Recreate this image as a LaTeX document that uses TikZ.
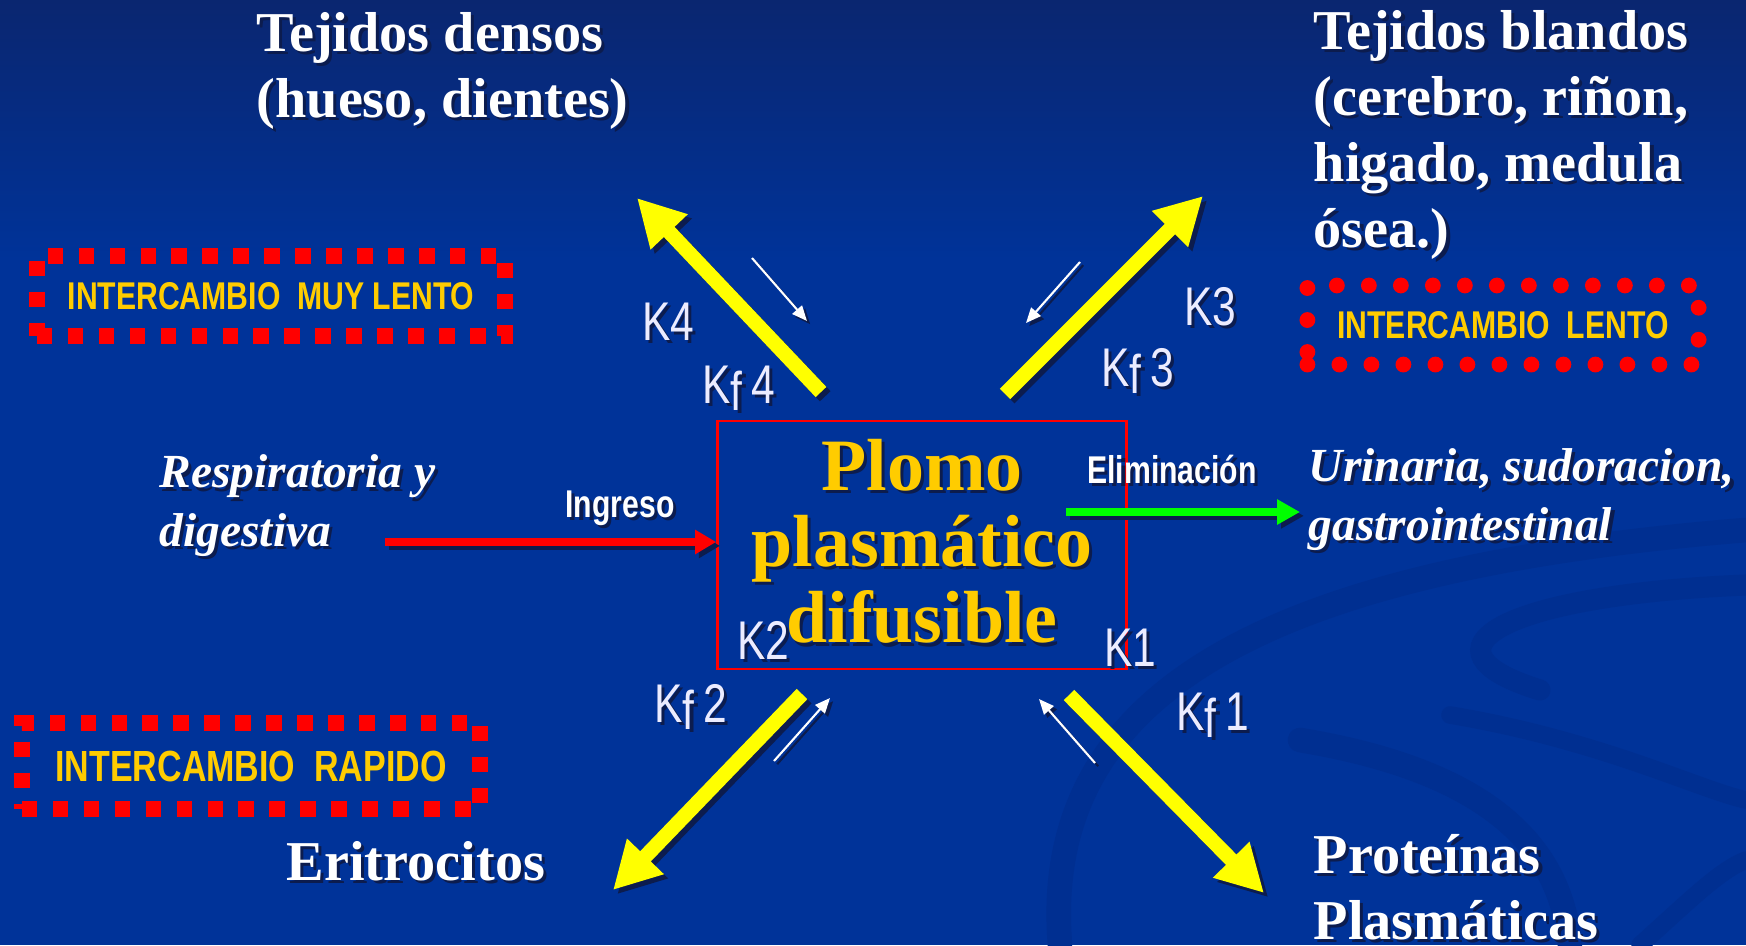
\documentclass[tikz,border=0pt]{standalone}
\usepackage{fontspec}
\setmainfont{Liberation Serif}
\newfontfamily\narrowsf[FakeStretch=0.78]{Liberation Sans}
\usetikzlibrary{arrows.meta}
\usetikzlibrary{positioning}

\definecolor{fondo}{RGB}{0,51,153}
\definecolor{fondotop}{RGB}{10,38,112}
\definecolor{banda}{RGB}{0,47,145}
\definecolor{oro}{RGB}{255,204,0}
\definecolor{rayo}{RGB}{255,255,0}
\definecolor{verde}{RGB}{0,255,0}
\definecolor{sombra}{RGB}{12,28,78}
\definecolor{blancok}{RGB}{236,236,255}

% text with a small drop shadow
\newcommand{\sombranode}[4]{%
  \node[#2,text=sombra,xshift=0.9pt,yshift=-0.9pt] at #3 {#4};
  \node[#2] (#1) at #3 {#4};
}
\newcommand{\kf}[1]{K\raisebox{-2pt}{f}\,#1}

\begin{document}
\begin{tikzpicture}[x=0.01cm,y=-0.01cm,
  titulo/.style={text=white,font=\bfseries\fontsize{16}{18.7}\selectfont,align=left,anchor=base west,inner sep=0pt},
  via/.style={text=white,font=\bfseries\itshape\fontsize{13.5}{16.5}\selectfont,align=left,anchor=base west,inner sep=0pt},
  klabel/.style={text=blancok,font=\narrowsf\fontsize{15.5}{18}\selectfont,anchor=base,inner sep=0pt},
  flujo/.style={text=white,font=\narrowsf\bfseries\fontsize{11}{13}\selectfont,anchor=base,inner sep=0pt},
  caja/.style={draw=red,line width=4.5pt,text=oro,font=\narrowsf\bfseries\fontsize{11}{13}\selectfont,inner sep=0pt}]

\useasboundingbox (0,0) rectangle (1746,945);
\fill[fondo] (0,0) rectangle (1746,945);
\shade[top color=fondotop,bottom color=fondo] (0,0) rectangle (1746,260);

% background swoosh
\begin{scope}[banda,line cap=round]
    \draw[line width=7pt] (1060,945) .. controls (1040,700) and (1250,570) .. (1746,530);
    \draw[line width=6pt] (1746,585) .. controls (1500,595) and (1410,650) .. (1540,690);
    \draw[line width=7pt] (1300,740) .. controls (1480,770) and (1560,840) .. (1570,945);
    \draw[line width=5pt] (1450,715) .. controls (1600,740) and (1700,790) .. (1746,800);
    \draw[line width=5pt] (1640,945) .. controls (1690,900) and (1720,870) .. (1746,860);
\end{scope}

% exchange boxes
\node[caja,dash pattern=on 4.4pt off 4.4pt,minimum width=4.68cm,minimum height=0.8cm] (muylento) at (271,296) {INTERCAMBIO\ \ MUY LENTO};
\node[caja,dash pattern=on 0pt off 9.1pt,line cap=round,minimum width=3.91cm,minimum height=0.79cm] (lento) at (1503,325) {INTERCAMBIO\ \ LENTO};
\node[caja,dash pattern=on 4.4pt off 4.4pt,font=\narrowsf\bfseries\fontsize{12.4}{14}\selectfont,minimum width=4.58cm,minimum height=0.86cm] (rapido) at (251,766) {INTERCAMBIO\ \ RAPIDO};

% central compartment
\node[draw=red,line width=0.7pt,minimum width=4.09cm,minimum height=2.48cm] (plomo) at (922,545) {};
\sombranode{plomotxt}{text=oro,font=\bfseries\fontsize{21}{21.7}\selectfont,align=center,inner sep=0pt,yshift=1pt}{(plomo)}{Plomo\\plasmático\\difusible}

\coordinate (k4a) at (821,392); \coordinate (k4b) at (637,198);
\coordinate (k3a) at (1005,394); \coordinate (k3b) at (1203,196);
\coordinate (k2a) at (802,694); \coordinate (k2b) at (613,890);
\coordinate (k1a) at (1069,695); \coordinate (k1b) at (1264,893);

\coordinate (w4a) at (752,258); \coordinate (w4b) at (807,321);
\coordinate (w3a) at (1080,262); \coordinate (w3b) at (1026,323);
\coordinate (w2a) at (774,761); \coordinate (w2b) at (830,698);
\coordinate (w1a) at (1095,763); \coordinate (w1b) at (1039,699);

\coordinate (ingreso) at (385,542);
\coordinate (elima) at (1066,512); \coordinate (elimb) at (1300,512);

\begin{scope}[line width=4.2pt]
    \foreach \u/\v in {k4a/k4b, k3a/k3b, k2a/k2b, k1a/k1b} {
        \draw[sombra,-{Triangle[length=13.3pt,width=13.6pt]}] ([xshift=1.2pt,yshift=-1.2pt]\u) -- ([xshift=1.2pt,yshift=-1.2pt]\v);
        \draw[rayo,-{Triangle[length=13.3pt,width=13.6pt]}] (\u) -- (\v);
    }
\end{scope}

\begin{scope}[line width=0.6pt]
    \foreach \u/\v in {w4a/w4b, w3a/w3b, w2a/w2b, w1a/w1b} {
        \draw[sombra,-{Triangle[length=4.3pt,width=3.6pt]}] ([xshift=0.9pt,yshift=-0.9pt]\u) -- ([xshift=0.9pt,yshift=-0.9pt]\v);
        \draw[white,-{Triangle[length=4.3pt,width=3.6pt]}] (\u) -- (\v);
    }
\end{scope}

\begin{scope}[line width=2.1pt]
    \draw[sombra,-{Triangle[length=6pt,width=6.6pt]}] ([xshift=1.1pt,yshift=-1.1pt]ingreso) -- ([xshift=1.1pt,yshift=-1.1pt]ingreso -| plomo.west);
    \draw[red,-{Triangle[length=6pt,width=6.6pt]}] (ingreso) -- (ingreso -| plomo.west);
    \draw[sombra,-{Triangle[length=6.5pt,width=6.8pt]}] ([xshift=1.1pt,yshift=-1.1pt]elima) -- ([xshift=1.1pt,yshift=-1.1pt]elimb);
    \draw[verde,-{Triangle[length=6.5pt,width=6.8pt]}] (elima) -- (elimb);
\end{scope}

% tissue and route labels (anchored at the last line)
\sombranode{densos}{titulo}{(256,117)}{Tejidos densos\\(hueso, dientes)}
\sombranode{blandos}{titulo}{(1313,247)}{Tejidos blandos\\(cerebro, riñon,\\higado, medula\\ósea.)}
\sombranode{eritro}{titulo}{(286,880)}{Eritrocitos}
\sombranode{prot}{titulo}{(1313,939)}{Proteínas\\Plasmáticas}
\sombranode{resp}{via}{(159,546)}{Respiratoria y\\digestiva}
\sombranode{urin}{via}{(1308,540)}{Urinaria, sudoracion,\\gastrointestinal}

\sombranode{ingresotxt}{flujo}{(620,517)}{Ingreso}
\sombranode{elimtxt}{flujo}{(1172,483)}{Eliminación}

% rate constants
\sombranode{K4}{klabel}{(668,340)}{K4}
\sombranode{Kf4}{klabel}{(739,403)}{\kf{4}}
\sombranode{K3}{klabel}{(1210,325)}{K3}
\sombranode{Kf3}{klabel}{(1138,386)}{\kf{3}}
\sombranode{K2}{klabel}{(763,659)}{K2}
\sombranode{K1}{klabel}{(1130,666)}{K1}
\sombranode{Kf2}{klabel}{(691,722)}{\kf{2}}
\sombranode{Kf1}{klabel}{(1213,730)}{\kf{1}}
\end{tikzpicture}
\end{document}
